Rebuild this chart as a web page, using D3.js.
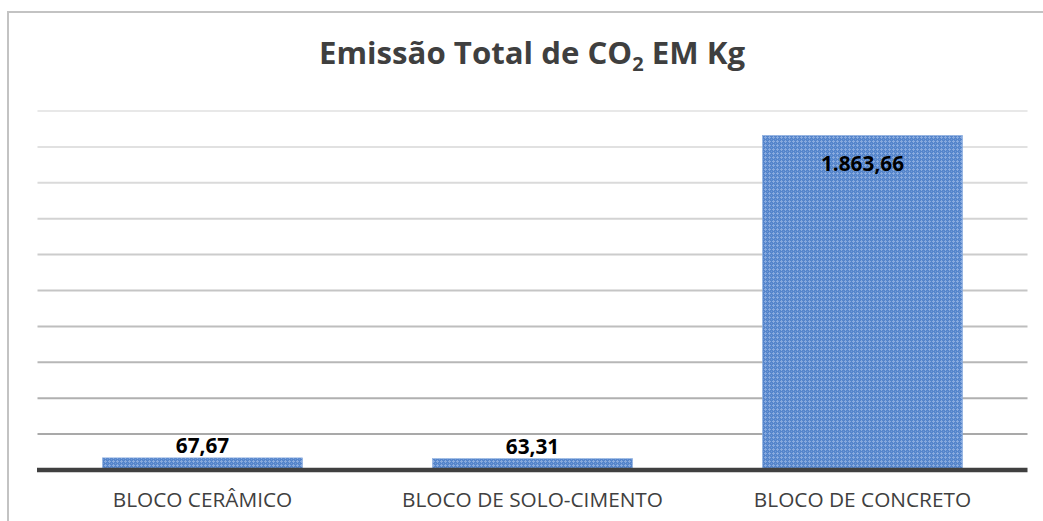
<!DOCTYPE html>
<html>
<head>
<meta charset="utf-8">
<script src="https://cdn.jsdelivr.net/npm/d3@7"></script>
<style>
  html, body { margin: 0; padding: 0; background: #fff; }
  svg { display: block; }
</style>
</head>
<body>
<svg id="chart" width="1043" height="521"></svg>
<script>
// Total CO2 emission per block type (kg)
const categories = ["BLOCO CERÂMICO", "BLOCO DE SOLO-CIMENTO", "BLOCO DE CONCRETO"];
const values = [67.67, 63.31, 1863.66];
const valueLabels = ["67,67", "63,31", "1.863,66"];
const gridTicks = [0, 200, 400, 600, 800, 1000, 1200, 1400, 1600, 1800, 2000];

const W = 1043, H = 521;
const svg = d3.select("#chart");
const font = "'Open Sans', 'Noto Sans', sans-serif";

// chart frame (only top and left edges fall inside the canvas)
svg.append("rect")
  .attr("x", 8).attr("y", 12)
  .attr("width", W + 20).attr("height", H + 20)
  .attr("fill", "#fff")
  .attr("stroke", "#c3c3c3")
  .attr("stroke-width", 2);

// dotted fill used by the bars
const defs = svg.append("defs");
const pat = defs.append("pattern")
  .attr("id", "dots")
  .attr("patternUnits", "userSpaceOnUse")
  .attr("width", 4).attr("height", 4);
pat.append("rect").attr("width", 4).attr("height", 4).attr("fill", "#5585cb");
pat.append("rect").attr("x", 1).attr("y", 0).attr("width", 1).attr("height", 3).attr("fill", "#88aade");
pat.append("rect").attr("x", 0).attr("y", 1).attr("width", 3).attr("height", 1).attr("fill", "#88aade");
pat.append("rect").attr("x", 3).attr("y", 3).attr("width", 1).attr("height", 1).attr("fill", "#6d97d6");

const plot = { left: 37.5, right: 1027.5, top: 111, bottom: 470 };

const x = d3.scaleBand()
  .domain(categories)
  .range([plot.left, plot.right])
  .paddingInner(0.394)
  .paddingOuter(0.197);

const y = d3.scaleLinear()
  .domain([0, 2000])
  .range([plot.bottom, plot.top]);

// horizontal gridlines, fading toward the top
const gridColor = d3.scaleLinear().domain([200, 2000]).range(["#a9a9a9", "#e8e8e8"]);
svg.append("g")
  .selectAll("line")
  .data(gridTicks.filter(t => t > 0))
  .join("line")
  .attr("x1", plot.left).attr("x2", plot.right)
  .attr("y1", d => y(d)).attr("y2", d => y(d))
  .attr("stroke", d => gridColor(d))
  .attr("stroke-width", 2);

// bars
svg.append("g")
  .selectAll("rect")
  .data(values)
  .join("rect")
  .attr("x", (d, i) => x(categories[i]))
  .attr("width", x.bandwidth())
  .attr("y", d => y(d))
  .attr("height", d => y(0) - y(d))
  .attr("fill", "url(#dots)")
  .attr("stroke", "#8caee0")
  .attr("stroke-width", 0.6);

// category axis baseline
svg.append("line")
  .attr("x1", plot.left - 0.5).attr("x2", plot.right)
  .attr("y1", y(0)).attr("y2", y(0))
  .attr("stroke", "#404040")
  .attr("stroke-width", 4.5);

// category labels
svg.append("g")
  .selectAll("text")
  .data(categories)
  .join("text")
  .attr("x", d => x(d) + x.bandwidth() / 2)
  .attr("y", 507)
  .attr("text-anchor", "middle")
  .attr("font-family", font)
  .attr("font-size", 20.8)
  .attr("fill", "#404040")
  .text(d => d);

// value labels: above short bars, inside the tall one
svg.append("g")
  .selectAll("text")
  .data(values)
  .join("text")
  .attr("x", (d, i) => x(categories[i]) + x.bandwidth() / 2)
  .attr("y", d => (y(0) - y(d) > 60 ? y(d) + 36 : y(d) - 5))
  .attr("text-anchor", "middle")
  .attr("font-family", font)
  .attr("font-weight", "bold")
  .attr("font-size", 20.8)
  .attr("fill", "#000")
  .text((d, i) => valueLabels[i]);

// title with subscript 2
const title = svg.append("text")
  .attr("x", 532)
  .attr("y", 64)
  .attr("text-anchor", "middle")
  .attr("font-family", font)
  .attr("font-weight", "bold")
  .attr("font-size", 31.2)
  .attr("fill", "#3f3f3f");
title.append("tspan").text("Emissão Total de CO");
title.append("tspan").attr("font-size", 20).attr("dy", 7).text("2");
title.append("tspan").attr("dy", -7).text(" EM Kg");
</script>
</body>
</html>
